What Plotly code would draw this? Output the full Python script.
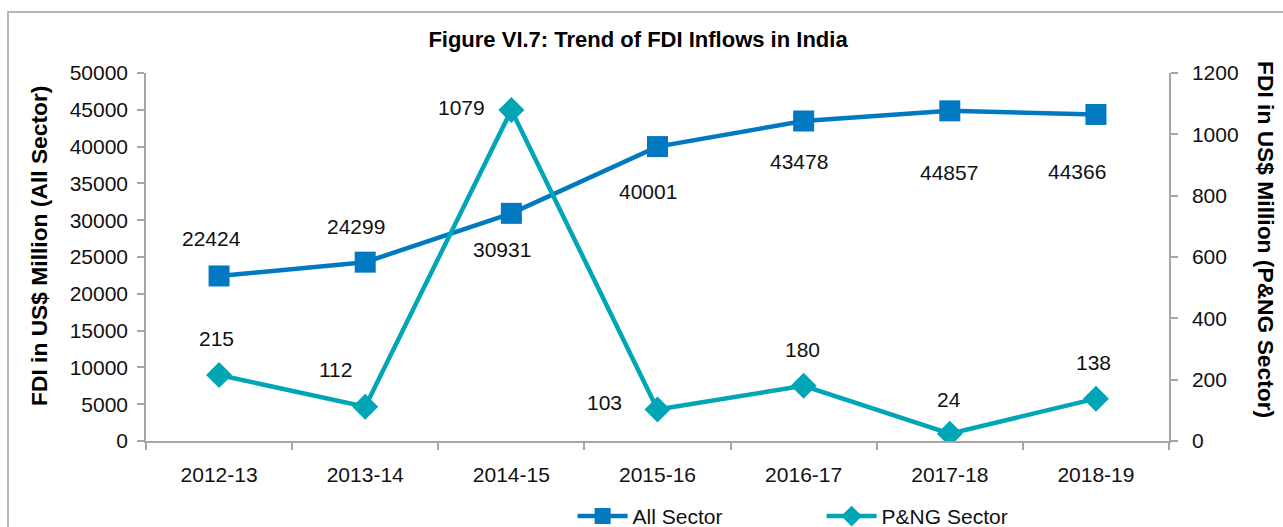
import plotly.graph_objects as go

# FDI inflows, US$ million
years = ["2012-13", "2013-14", "2014-15", "2015-16", "2016-17", "2017-18", "2018-19"]
all_sector = [22424, 24299, 30931, 40001, 43478, 44857, 44366]
png_sector = [215, 112, 1079, 103, 180, 24, 138]

# label offsets (pixels) relative to each point
all_label_shift = [(-8, 37), (-9, 36), (-9, -36), (-10, -45), (-5, -40), (-1, -62), (-19, -57)]
png_label_shift = [(-3, 37), (-30, 37), (-50, 3), (-53, 7), (-1, 36), (-1, 34), (-2, 36)]

BLUE = "#0079C1"
TEAL = "#00A6B6"
AXIS = "#A6A6A6"
FONT = "Liberation Sans, Arial, Helvetica, sans-serif"
TXT = 21

fig = go.Figure()
fig.add_trace(go.Scatter(
    x=years, y=all_sector, name="All Sector", mode="lines+markers",
    line=dict(color=BLUE, width=4.5),
    marker=dict(symbol="square", size=21, color=BLUE),
    yaxis="y",
))
fig.add_trace(go.Scatter(
    x=years, y=png_sector, name="P&NG Sector", mode="lines+markers",
    line=dict(color=TEAL, width=4.5),
    marker=dict(symbol="diamond", size=20, color=TEAL),
    yaxis="y2",
))

annotations = []
for yr, v, (dx, dy) in zip(years, all_sector, all_label_shift):
    annotations.append(dict(x=yr, y=v, xref="x", yref="y", text=str(v), showarrow=False,
                            xshift=dx, yshift=dy, font=dict(size=TXT, color="#111111", family=FONT)))
for yr, v, (dx, dy) in zip(years, png_sector, png_label_shift):
    annotations.append(dict(x=yr, y=v, xref="x", yref="y2", text=str(v), showarrow=False,
                            xshift=dx, yshift=dy, font=dict(size=TXT, color="#111111", family=FONT)))

# axis titles
annotations.append(dict(text="<b>FDI in US$ Million (All Sector)</b>", textangle=-90,
                        xref="paper", yref="paper", x=(39 - 146) / 1023, y=(441 - 246) / 368,
                        xanchor="center", yanchor="middle",
                        showarrow=False, font=dict(size=22.8, color="#000000", family=FONT)))
annotations.append(dict(text="<b>FDI in US$ Million (P&NG Sector)</b>", textangle=90,
                        xref="paper", yref="paper", x=(1266 - 146) / 1023, y=(441 - 239) / 368,
                        xanchor="center", yanchor="middle",
                        showarrow=False, font=dict(size=22.8, color="#000000", family=FONT)))

axis_common = dict(showline=True, linecolor=AXIS, linewidth=1.5, ticks="outside",
                   tickcolor=AXIS, tickwidth=1.5, ticklen=7, showgrid=False, zeroline=False,
                   tickfont=dict(size=TXT, color="#111111", family=FONT))

fig.update_layout(
    width=1283, height=527,
    margin=dict(l=146, r=114, t=73, b=86, autoexpand=False),
    paper_bgcolor="white", plot_bgcolor="white",
    font=dict(family=FONT, color="#111111"),
    title=dict(text="<b>Figure VI.7: Trend of FDI Inflows in India</b>",
               x=638 / 1283, xanchor="center", y=1 - 39 / 527, yanchor="middle",
               font=dict(size=22, color="#000000", family=FONT)),
    xaxis=dict(**axis_common, type="category", range=[-0.5, 6.5], tickson="boundaries",
               ticklabelstandoff=14),
    yaxis=dict(**axis_common, range=[0, 50000], dtick=5000, tickformat="d",
               ticklabelstandoff=5),
    yaxis2=dict(**axis_common, range=[0, 1200], dtick=200, tickformat="d",
                overlaying="y", side="right", ticklabelstandoff=10),
    showlegend=True,
    legend=dict(orientation="h", x=0.417, xanchor="left", y=-0.205, yanchor="middle",
                font=dict(size=TXT, color="#111111", family=FONT),
                itemwidth=50, entrywidth=184, bgcolor="rgba(0,0,0,0)"),
    annotations=annotations,
    shapes=[dict(type="rect", xref="paper", yref="paper",
                 x0=(8 - 146) / 1023, x1=1.3, y0=-0.5, y1=(441 - 12) / 368,
                 line=dict(color="#A0A0A0", width=1.5), layer="below")],
)

fig.write_html("out.html")
